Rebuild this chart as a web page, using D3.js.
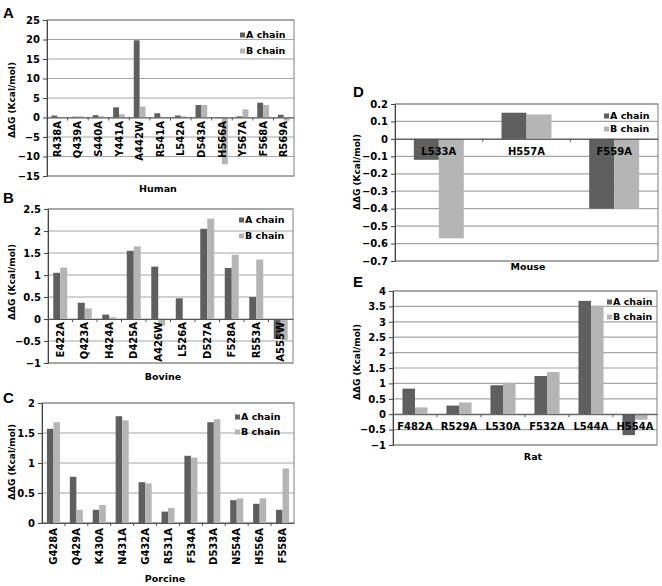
<!DOCTYPE html>
<html>
<head>
<meta charset="utf-8">
<script src="https://cdn.jsdelivr.net/npm/d3@7/dist/d3.min.js"></script>
<style>
html,body{margin:0;padding:0;background:#fff;}
svg{display:block;}
text{font-family:"DejaVu Sans",Verdana,sans-serif;font-weight:bold;fill:#000;}
</style>
</head>
<body>
<svg id="chart" width="662" height="586"></svg>
<script>
// ---- Data ----
const seriesNames = ["A chain", "B chain"];

const humanCats = ["R438A","Q439A","S440A","Y441A","A442W","R541A","L542A","D543A","H566A","Y567A","F568A","R569A"];
const humanA = [0.5, 0.2, 0.6, 2.6, 19.8, 1.1, 0.5, 3.2, -0.1, 0.3, 3.8, 0.7];
const humanB = [0.1, 0.3, 0.3, 0.8, 2.8, 0.2, 0.3, 3.2, -12.0, 2.1, 3.2, -0.8];
const humanTicks = [-15, -10, -5, 0, 5, 10, 15, 20, 25];

const bovineCats = ["E422A","Q423A","H424A","D425A","A426W","L526A","D527A","F528A","R553A","A555W"];
const bovineA = [1.05, 0.37, 0.10, 1.55, 1.19, 0.47, 2.05, 1.16, 0.50, -0.45];
const bovineB = [1.17, 0.24, 0.04, 1.65, -0.15, 0.0, 2.28, 1.46, 1.35, -0.48];
const bovineTicks = [-1, -0.5, 0, 0.5, 1, 1.5, 2, 2.5];

const porcineCats = ["G428A","Q429A","K430A","N431A","G432A","R531A","F534A","D533A","N554A","H556A","F558A"];
const porcineA = [1.57, 0.77, 0.22, 1.78, 0.68, 0.19, 1.12, 1.68, 0.38, 0.32, 0.22];
const porcineB = [1.68, 0.22, 0.30, 1.71, 0.66, 0.25, 1.09, 1.73, 0.41, 0.41, 0.91];
const porcineTicks = [0, 0.5, 1, 1.5, 2];

const mouseCats = ["L533A","H557A","F559A"];
const mouseA = [-0.12, 0.15, -0.40];
const mouseB = [-0.57, 0.14, -0.40];
const mouseTicks = [-0.7, -0.6, -0.5, -0.4, -0.3, -0.2, -0.1, 0, 0.1, 0.2];

const ratCats = ["F482A","R529A","L530A","F532A","L544A","H554A"];
const ratA = [0.83, 0.28, 0.94, 1.24, 3.68, -0.68];
const ratB = [0.22, 0.38, 1.02, 1.37, 3.52, -0.18];
const ratTicks = [-1, -0.5, 0, 0.5, 1, 1.5, 2, 2.5, 3, 3.5, 4];

const colors = ["#5f5f5f", "#b5b5b5"];
const yTitle = "ΔΔG (Kcal/mol)";

const svg = d3.select("#chart");

function panel(o) {
  const g = svg.append("g");
  const y = d3.scaleLinear().domain(o.domain).range([o.bottom, o.top]);
  const x = d3.scaleBand().domain(o.cats).range([o.left, o.right]).padding(0);
  const bw = x.bandwidth();
  const barW = bw * 0.285;

  // gridlines
  g.append("g").selectAll("line").data(o.ticks).join("line")
    .attr("x1", o.left).attr("x2", o.right)
    .attr("y1", d => y(d)).attr("y2", d => y(d))
    .attr("stroke", "#a6a6a6").attr("stroke-width", 1.2);

  // frame
  g.append("rect").attr("x", o.left).attr("y", o.top)
    .attr("width", o.right - o.left).attr("height", o.bottom - o.top)
    .attr("fill", "none").attr("stroke", "#7f7f7f").attr("stroke-width", 1);

  // bars
  const series = [o.a, o.b];
  series.forEach((vals, si) => {
    g.append("g").selectAll("rect").data(o.cats.map((c, i) => ({c, v: vals[i]}))).join("rect")
      .attr("x", d => x(d.c) + bw / 2 + (si === 0 ? -barW : 0))
      .attr("width", barW)
      .attr("y", d => Math.min(y(d.v), y(0)))
      .attr("height", d => Math.abs(y(d.v) - y(0)))
      .attr("fill", colors[si]);
  });

  // y axis
  const yAxis = d3.axisLeft(y).tickValues(o.ticks).tickSize(4).tickPadding(3)
    .tickFormat(d => d3.format("")(Math.round(d * 100) / 100));
  const ya = g.append("g").attr("transform", `translate(${o.left},0)`).call(yAxis);
  ya.select(".domain").attr("stroke", "#444");
  ya.selectAll(".tick line").attr("stroke", "#444");
  ya.selectAll(".tick text").style("font-size", "10px").style("font-family", "DejaVu Sans").style("font-weight", "bold").attr("fill", "#000");

  // x axis at zero
  const zy = y(0);
  const xAxis = d3.axisBottom(x).tickSize(0).tickFormat("");
  const xa = g.append("g").attr("transform", `translate(0,${zy})`).call(xAxis);
  xa.select(".domain").attr("stroke", "#555");
  // category boundary ticks
  g.append("g").selectAll("line").data(o.cats.slice(1)).join("line")
    .attr("x1", d => x(d)).attr("x2", d => x(d))
    .attr("y1", zy).attr("y2", zy + 3).attr("stroke", "#555");

  // category labels
  const lab = g.append("g").selectAll("text").data(o.cats).join("text")
    .text(d => d).style("font-size", "10px");
  if (o.labelMode === "rot") {
    const ly = o.labelY;
    lab.attr("text-anchor", "end")
      .attr("transform", d => `translate(${x(d) + bw / 2},${ly}) rotate(-90)`)
      .attr("dy", "0.36em");
  } else {
    lab.attr("text-anchor", "middle")
      .attr("x", d => x(d) + bw / 2).attr("y", zy + 16);
  }

  // axis titles
  g.append("text").attr("text-anchor", "middle")
    .attr("transform", `translate(${o.ytX},${o.ytY}) rotate(-90)`)
    .attr("dy", "0.35em").style("font-size", "9px").text(yTitle);
  g.append("text").attr("text-anchor", "middle")
    .attr("x", o.titleX).attr("y", o.titleY).attr("dy", "0.35em")
    .style("font-size", "9.5px").text(o.title);

  // panel letter
  g.append("text").attr("x", o.letterX).attr("y", o.letterY)
    .style("font-family", "Liberation Sans, Arial, sans-serif").style("font-size", "15px").style("font-weight", "bold")
    .text(o.letter);

  // legend
  const lg = g.append("g");
  seriesNames.forEach((s, i) => {
    const ly = o.legY + i * o.legGap;
    lg.append("rect").attr("x", o.legX).attr("y", ly - 2.5).attr("width", 5).attr("height", 5).attr("fill", colors[i]);
    lg.append("text").attr("x", o.legX + 6).attr("y", ly).attr("dy", "0.35em")
      .style("font-size", "9.5px").text(s);
  });
}

panel({letter: "A", letterX: 3, letterY: 18, cats: humanCats, a: humanA, b: humanB, ticks: humanTicks,
  domain: [-15, 25], left: 47, right: 294, top: 20, bottom: 176, labelMode: "rot", labelY: 121,
  title: "Human", titleX: 158, titleY: 189, ytX: 12, ytY: 100, legX: 240, legY: 35, legGap: 16});

panel({letter: "B", letterX: 3, letterY: 203, cats: bovineCats, a: bovineA, b: bovineB, ticks: bovineTicks,
  domain: [-1, 2.5], left: 48, right: 293, top: 209, bottom: 363, labelMode: "rot", labelY: 322,
  title: "Bovine", titleX: 163, titleY: 377, ytX: 12, ytY: 282, legX: 239, legY: 220, legGap: 16});

panel({letter: "C", letterX: 3, letterY: 403, cats: porcineCats, a: porcineA, b: porcineB, ticks: porcineTicks,
  domain: [0, 2], left: 42, right: 294, top: 403, bottom: 523, labelMode: "rot", labelY: 528,
  title: "Porcine", titleX: 165, titleY: 579, ytX: 12, ytY: 462, legX: 235, legY: 417, legGap: 15});

panel({letter: "D", letterX: 353, letterY: 97, cats: mouseCats, a: mouseA, b: mouseB, ticks: mouseTicks,
  domain: [-0.7, 0.2], left: 395, right: 658, top: 104, bottom: 261, labelMode: "h",
  title: "Mouse", titleX: 528, titleY: 267, ytX: 357, ytY: 172, legX: 604, legY: 116, legGap: 13});

panel({letter: "E", letterX: 353, letterY: 287, cats: ratCats, a: ratA, b: ratB, ticks: ratTicks,
  domain: [-1, 4], left: 393, right: 657, top: 291, bottom: 445, labelMode: "h",
  title: "Rat", titleX: 533, titleY: 457, ytX: 357, ytY: 362, legX: 607, legY: 302, legGap: 15});
</script>
</body>
</html>
